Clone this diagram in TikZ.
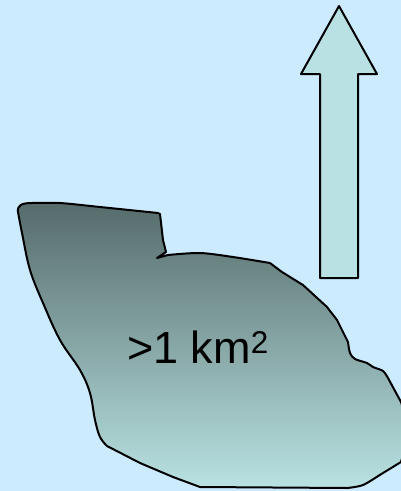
\documentclass[tikz,border=0pt]{standalone}
\usepackage{fontspec}
\setmainfont{Liberation Sans}
\definecolor{bgblue}{HTML}{CCEBFF}
\definecolor{arrowfill}{HTML}{B9E0E3}
\definecolor{blobtop}{HTML}{566B6B}
\definecolor{blobbot}{HTML}{B9E2E2}
\tikzset{
  outline/.style={draw=black, line width=2pt, line join=round},
}
\begin{document}
\begin{tikzpicture}[x=1pt,y=-1pt]
\fill[bgblue] (0,0) rectangle (401,491);
\useasboundingbox (0,0) rectangle (401,491);
\clip (0,0) rectangle (401,491);
% arrow
\path[outline, fill=arrowfill] (339,6) -- (377,74) -- (358,74) -- (358,278) -- (320,278) -- (320,74) -- (301,74) -- cycle;
% blob
\path[outline, top color=blobtop, bottom color=blobbot, shading angle=0]
  (18,212) .. controls (17,205) and (22,203) .. (32,203)
  -- plot[smooth, tension=0.5] coordinates {(32,203) (60,203) (100,207) (158,213)}
  -- (160,214) -- (163,240) -- (166,252) -- (157,258) -- (168,255)
  -- plot[smooth, tension=0.5] coordinates {(168,255) (200,253) (233,257) (270,263)}
  -- (282,272) -- (290,277) -- (303,285) -- (327,307) -- (337,320) -- (348,342)
  -- plot[smooth, tension=0.5] coordinates {(348,342) (350,353) (355,359) (367,363) (373,367) (383,371) (388,378)}
  -- (401,402) -- (410,430) -- (401,462)
  -- plot[smooth, tension=0.5] coordinates {(401,462) (383,473) (363,485) (347,488)}
  -- (200,487) -- (173,477) -- (140,463) -- (107,446)
  -- plot[smooth, tension=0.6] coordinates {(107,446) (100,437) (95,420) (90,393) (80,370) (60,340) (43,303) (30,270) (22,233) (18,212)}
  -- cycle;
\node[anchor=base, font=\fontsize{45}{52}\selectfont, inner sep=0pt] (label) at (198,363) {>1 km\textsuperscript{2}};
\end{tikzpicture}
\end{document}
